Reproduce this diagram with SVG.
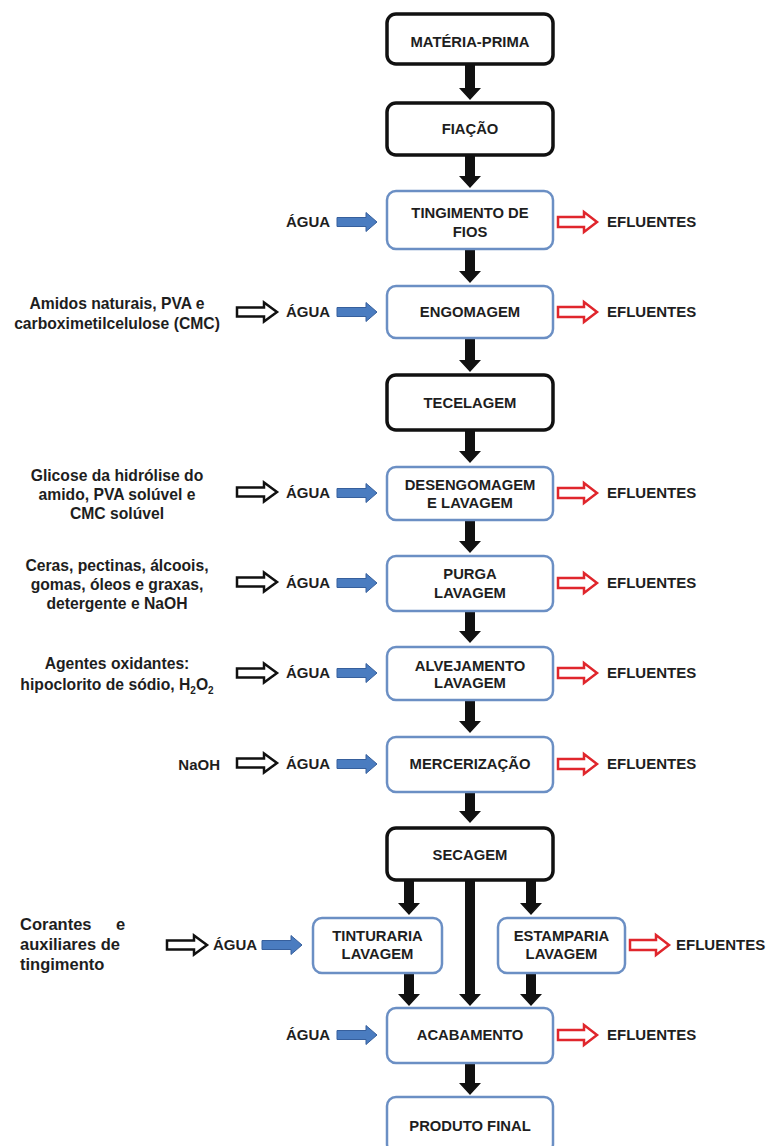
<svg xmlns="http://www.w3.org/2000/svg" width="771" height="1146" viewBox="0 0 771 1146">
<style>
.t{font-family:"Liberation Sans",Arial,sans-serif;font-weight:bold;fill:#1e1e1e}
.box{font-size:14.8px;text-anchor:middle}
.lbl{font-size:15px}
.side{font-size:15.7px;text-anchor:middle}
.bk{fill:#fff;stroke:#111;stroke-width:3.5}
.bl{fill:#fff;stroke:#6b8fc4;stroke-width:2.5}
.dn{fill:#111}
</style>
<defs>
<path id="ab" d="M0,-4.5 H29 V-9.5 L40,0 L29,9.5 V4.5 H0 Z" fill="#4a7cc0" stroke="#365f9c" stroke-width="1"/>
<path id="ar" d="M0,-5 H26 V-10 L39,0 L26,10 V5 H0 Z" fill="#fff" stroke="#e0262c" stroke-width="2.5"/>
<path id="aw" d="M0,-4.5 H27 V-9.5 L40,0 L27,9.5 V4.5 H0 Z" fill="#fff" stroke="#111" stroke-width="2.5"/>
</defs>
<rect width="771" height="1146" fill="#fff"/>

<g id="connectors">
<path class="dn" d="M465,64 V88 H459 L470,100 L481,88 H475 V64 Z"/>
<path class="dn" d="M465,156 V176 H459 L470,188 L481,176 H475 V156 Z"/>
<path class="dn" d="M465,250 V271 H459 L470,283 L481,271 H475 V250 Z"/>
<path class="dn" d="M465,339 V360 H459 L470,372 L481,360 H475 V339 Z"/>
<path class="dn" d="M465,431 V451 H459 L470,463 L481,451 H475 V431 Z"/>
<path class="dn" d="M465,521 V541 H459 L470,553 L481,541 H475 V521 Z"/>
<path class="dn" d="M465,612 V631 H459 L470,643 L481,631 H475 V612 Z"/>
<path class="dn" d="M465,701 V721 H459 L470,733 L481,721 H475 V701 Z"/>
<path class="dn" d="M465,793 V811 H459 L470,823 L481,811 H475 V793 Z"/>
<path class="dn" d="M404,881 V903 H398 L409,915 L420,903 H414 V881 Z"/>
<path class="dn" d="M526,881 V903 H520 L531,915 L542,903 H536 V881 Z"/>
<path class="dn" d="M465,881 V994 H459 L470,1006 L481,994 H475 V881 Z"/>
<path class="dn" d="M404,974 V994 H398 L409,1006 L420,994 H414 V974 Z"/>
<path class="dn" d="M526,974 V994 H520 L531,1006 L542,994 H536 V974 Z"/>
<path class="dn" d="M465,1064 V1083 H459 L470,1095 L481,1083 H475 V1064 Z"/>

<use href="#ab" x="337" y="222"/>
<use href="#ab" x="337" y="312"/>
<use href="#ab" x="337" y="493"/>
<use href="#ab" x="337" y="583"/>
<use href="#ab" x="337" y="673"/>
<use href="#ab" x="337" y="764"/>
<use href="#ab" x="262" y="945"/>
<use href="#ab" x="337" y="1035"/>

<use href="#ar" x="558" y="222"/>
<use href="#ar" x="558" y="312"/>
<use href="#ar" x="558" y="493"/>
<use href="#ar" x="558" y="583"/>
<use href="#ar" x="558" y="673"/>
<use href="#ar" x="558" y="764"/>
<use href="#ar" x="630" y="945"/>
<use href="#ar" x="558" y="1035"/>

<use href="#aw" x="237" y="312"/>
<use href="#aw" x="237" y="492"/>
<use href="#aw" x="237" y="582"/>
<use href="#aw" x="237" y="673"/>
<use href="#aw" x="237" y="763"/>
<use href="#aw" x="167" y="945"/>
</g>

<g id="n-materia"><rect class="bk" x="387" y="14" width="166" height="50" rx="9"/><text class="t box" x="470" y="47">MATÉRIA-PRIMA</text></g>
<g id="n-fiacao"><rect class="bk" x="387" y="103" width="166" height="52" rx="9"/><text class="t box" x="470" y="134">FIAÇÃO</text></g>
<g id="n-tingimento"><rect class="bl" x="387" y="191" width="166" height="58" rx="9"/><text class="t box" x="470" y="218">TINGIMENTO DE</text><text class="t box" x="470" y="237">FIOS</text></g>
<g id="n-engomagem"><rect class="bl" x="387" y="286" width="166" height="52" rx="9"/><text class="t box" x="470" y="317">ENGOMAGEM</text></g>
<g id="n-tecelagem"><rect class="bk" x="387" y="375" width="166" height="55" rx="9"/><text class="t box" x="470" y="408">TECELAGEM</text></g>
<g id="n-desengomagem"><rect class="bl" x="387" y="467" width="166" height="53" rx="9"/><text class="t box" x="470" y="490">DESENGOMAGEM</text><text class="t box" x="470" y="508">E LAVAGEM</text></g>
<g id="n-purga"><rect class="bl" x="387" y="556" width="166" height="55" rx="9"/><text class="t box" x="470" y="579">PURGA</text><text class="t box" x="470" y="598">LAVAGEM</text></g>
<g id="n-alvejamento"><rect class="bl" x="387" y="647" width="166" height="53" rx="9"/><text class="t box" x="470" y="671">ALVEJAMENTO</text><text class="t box" x="470" y="688">LAVAGEM</text></g>
<g id="n-mercerizacao"><rect class="bl" x="387" y="737" width="166" height="55" rx="9"/><text class="t box" x="470" y="769">MERCERIZAÇÃO</text></g>
<g id="n-secagem"><rect class="bk" x="387" y="828" width="166" height="52" rx="9"/><text class="t box" x="470" y="860">SECAGEM</text></g>
<g id="n-tinturaria"><rect class="bl" x="313" y="918" width="129" height="55" rx="9"/><text class="t box" x="377.5" y="941">TINTURARIA</text><text class="t box" x="377.5" y="959">LAVAGEM</text></g>
<g id="n-estamparia"><rect class="bl" x="498" y="918" width="127" height="55" rx="9"/><text class="t box" x="561.5" y="941">ESTAMPARIA</text><text class="t box" x="561.5" y="959">LAVAGEM</text></g>
<g id="n-acabamento"><rect class="bl" x="387" y="1008" width="166" height="55" rx="9"/><text class="t box" x="470" y="1040">ACABAMENTO</text></g>
<g id="n-produto"><rect class="bl" x="387" y="1097" width="166" height="56" rx="9"/><text class="t box" x="470" y="1131">PRODUTO FINAL</text></g>

<g id="labels-agua">
<text class="t lbl" x="286" y="227">ÁGUA</text>
<text class="t lbl" x="286" y="317">ÁGUA</text>
<text class="t lbl" x="286" y="498">ÁGUA</text>
<text class="t lbl" x="286" y="588">ÁGUA</text>
<text class="t lbl" x="286" y="678">ÁGUA</text>
<text class="t lbl" x="286" y="769">ÁGUA</text>
<text class="t lbl" x="213" y="950">ÁGUA</text>
<text class="t lbl" x="286" y="1040">ÁGUA</text>
</g>
<g id="labels-efluentes">
<text class="t lbl" x="607" y="227">EFLUENTES</text>
<text class="t lbl" x="607" y="317">EFLUENTES</text>
<text class="t lbl" x="607" y="498">EFLUENTES</text>
<text class="t lbl" x="607" y="588">EFLUENTES</text>
<text class="t lbl" x="607" y="678">EFLUENTES</text>
<text class="t lbl" x="607" y="769">EFLUENTES</text>
<text class="t lbl" x="676" y="950">EFLUENTES</text>
<text class="t lbl" x="607" y="1040">EFLUENTES</text>
</g>
<g id="inputs">
<text class="t side" x="117" y="308.5">Amidos naturais, PVA e</text>
<text class="t side" x="117" y="328.5">carboximetilcelulose (CMC)</text>
<text class="t side" x="117" y="480.5">Glicose da hidrólise do</text>
<text class="t side" x="117" y="499.5">amido, PVA solúvel e</text>
<text class="t side" x="117" y="518.5">CMC solúvel</text>
<text class="t side" x="117" y="570.5">Ceras, pectinas, álcoois,</text>
<text class="t side" x="117" y="589.5">gomas, óleos e graxas,</text>
<text class="t side" x="117" y="608.5">detergente e NaOH</text>
<text class="t side" x="117" y="669">Agentes oxidantes:</text>
<text class="t side" x="117" y="690">hipoclorito de sódio, H<tspan font-size="10" dy="4">2</tspan><tspan dy="-4">O</tspan><tspan font-size="10" dy="4">2</tspan></text>
<text class="t lbl" x="220" y="770" text-anchor="end" font-size="15.7">NaOH</text>
<text class="t" x="20" y="930" font-size="16.5" word-spacing="20">Corantes e</text>
<text class="t" x="20" y="950" font-size="16.5">auxiliares de</text>
<text class="t" x="20" y="970" font-size="16.5">tingimento</text>
</g>
</svg>
